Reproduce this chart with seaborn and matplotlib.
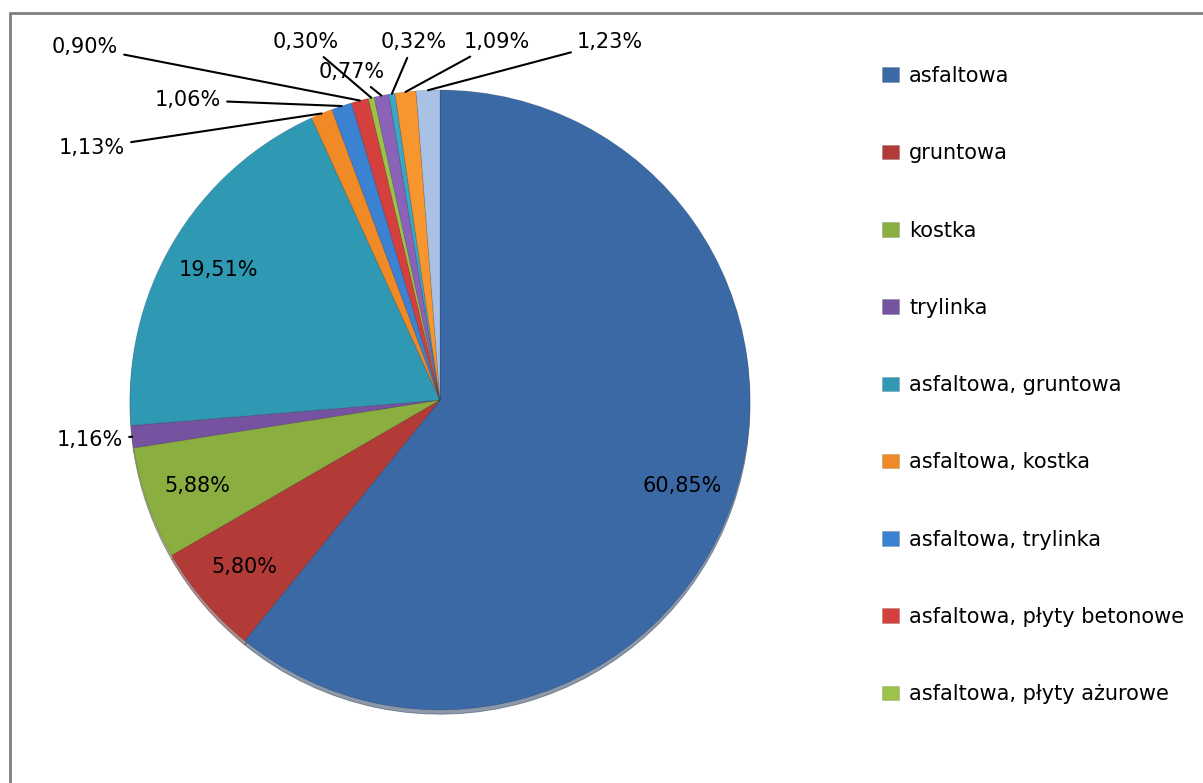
import numpy as np
import pandas as pd
import matplotlib
matplotlib.use('Agg')
import matplotlib.pyplot as plt
import seaborn as sns
from matplotlib.lines import Line2D

sns.set_theme(style='white')
plt.rcParams['font.family'] = ['DejaVu Sans']

# nawierzchnie - udzial procentowy (legenda w oryginale ucieta po 9 pozycjach)
categories = ['asfaltowa', 'gruntowa', 'kostka', 'trylinka', 'asfaltowa, gruntowa',
              'asfaltowa, kostka', 'asfaltowa, trylinka', 'asfaltowa, płyty betonowe',
              'asfaltowa, płyty ażurowe', 'gruntowa, kostka', 'gruntowa, trylinka',
              'kostka, trylinka', 'inne']
shares = [60.85, 5.80, 5.88, 1.16, 19.51, 1.13, 1.06, 0.90, 0.30, 0.77, 0.32, 1.09, 1.23]
colors = ['#3a69a6', '#b23b38', '#8bae40', '#7653a0', '#2f99b3', '#f08a26', '#3b82d2',
          '#d4403e', '#9cc24a', '#8a63b8', '#3ba7c4', '#f7952f', '#a9c1e4']

df = pd.DataFrame({'kategoria': categories, 'udzial': shares})
palette = sns.color_palette(colors)

W, H = 1203, 783
fig = plt.figure(figsize=(W / 100, H / 100), dpi=100)
ax = fig.add_axes([0, 0, 1, 1])

cx, cy, R = 440, H - 400, 310
wedges, _ = ax.pie(df.udzial, colors=palette, startangle=90, counterclock=False,
                   center=(cx, cy), radius=R,
                   wedgeprops={'linewidth': 0.6, 'edgecolor': (0, 0, 0, 0.15)},
                   shadow={'ox': 0, 'oy': -3, 'shade': 0.5})
ax.set_xlim(0, W)
ax.set_ylim(0, H)
ax.axis('off')

def fmt(v):
    return f'{v:.2f}%'.replace('.', ',')

# etykiety wewnatrz
inside = [0, 1, 2, 4]
for i in inside:
    w = wedges[i]
    th = np.deg2rad((w.theta1 + w.theta2) / 2)
    ax.text(cx + 0.83 * R * np.cos(th), cy + 0.83 * R * np.sin(th), fmt(shares[i]),
            ha='center', va='center', fontsize=15, color='black')

# etykiety zewnetrzne z liniami
label_pos = {3: (90, 440), 5: (92, 148), 6: (188, 100), 7: (85, 47), 8: (306, 42),
             9: (352, 72), 10: (414, 42), 11: (497, 42), 12: (610, 42)}
for i, (px, py) in label_pos.items():
    w = wedges[i]
    th = np.deg2rad((w.theta1 + w.theta2) / 2)
    ex, ey = cx + R * np.cos(th), cy + R * np.sin(th)
    ax.annotate(fmt(shares[i]), xy=(ex, ey), xytext=(px, H - py),
                ha='center', va='center', fontsize=15, color='black',
                arrowprops=dict(arrowstyle='-', color='black', lw=1.5,
                                shrinkA=2, shrinkB=0))

fig.legend(wedges[:9], categories[:9], loc='upper left',
           bbox_to_anchor=(882 / W, 1 - 66 / H), frameon=False, fontsize=15,
           labelcolor='black', labelspacing=2.75, handlelength=0.8, handleheight=0.7,
           handletextpad=0.5, borderpad=0, borderaxespad=0)

# ramka wykresu (ucieta z prawej i z dolu)
fig.add_artist(Line2D([10 / W, 1], [1 - 13 / H, 1 - 13 / H], transform=fig.transFigure,
                      color='#808080', lw=2))
fig.add_artist(Line2D([10 / W, 10 / W], [0, 1 - 13 / H], transform=fig.transFigure,
                      color='#808080', lw=2))

fig.savefig('out.png', dpi=100, facecolor='white')
